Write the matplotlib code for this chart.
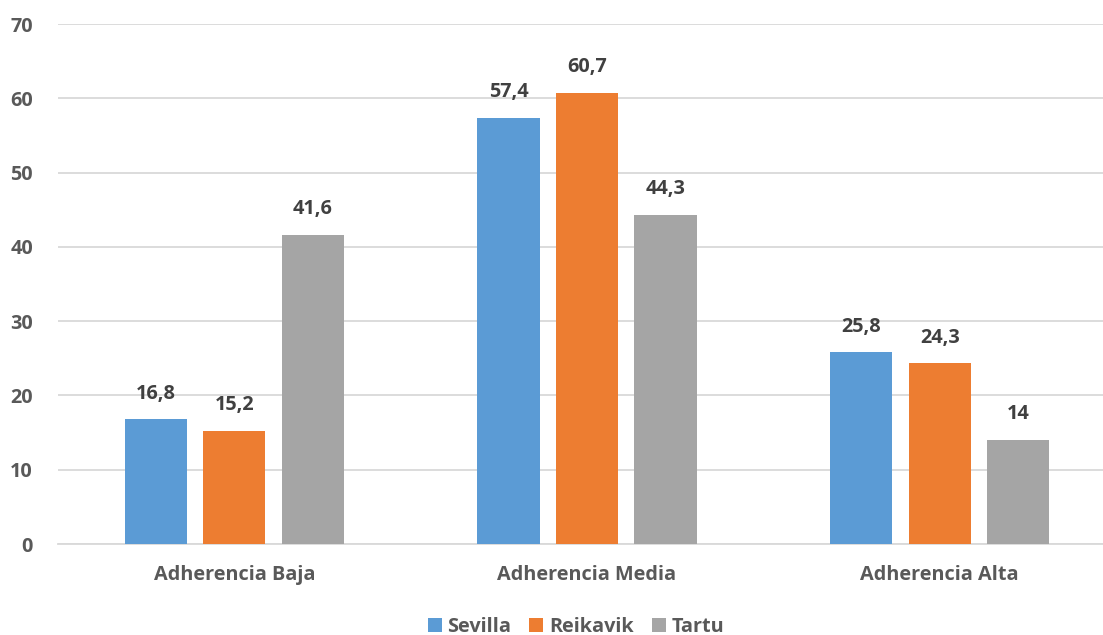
import numpy as np
import matplotlib
matplotlib.use('Agg')
from matplotlib import pyplot as plt

plt.rcParams['font.family'] = ['Open Sans', 'DejaVu Sans']
plt.rcParams['font.weight'] = 'bold'

categorias = ['Adherencia Baja', 'Adherencia Media', 'Adherencia Alta']
sevilla = [16.8, 57.4, 25.8]
reikavik = [15.2, 60.7, 24.3]
tartu = [41.6, 44.3, 14]
etiquetas_y = [0, 10, 20, 30, 40, 50, 60, 70]

series = [('Sevilla', sevilla, '#5B9BD5'),
          ('Reikavik', reikavik, '#ED7D31'),
          ('Tartu', tartu, '#A5A5A5')]

W, H = 1103, 635
fig = plt.figure(figsize=(W / 100, H / 100), dpi=100)
# el eje se extiende un poco más allá del borde derecho
ax = fig.add_axes([58 / W, 1 - 544 / H, (1116 - 58) / W, (544 - 24) / H])

x = np.arange(len(categorias))
ancho = 0.176
paso = 0.2225
fs = 14.3

def fmt(v):
    s = ('%.1f' % v).rstrip('0').rstrip('.')
    return s.replace('.', ',')

for i, (nombre, vals, color) in enumerate(series):
    pos = x + (i - 1) * paso
    barras = ax.bar(pos, vals, ancho, color=color, label=nombre, zorder=3)
    for b, v in zip(barras, vals):
        ax.text(b.get_x() + b.get_width() / 2, v + 2.1, fmt(v),
                ha='center', va='bottom', fontsize=fs, fontweight='bold',
                color='#404040')

ax.set_xlim(-0.5, 2.5)
ax.set_ylim(0, 70)
ax.set_yticks(etiquetas_y)
ax.set_yticklabels([str(v) for v in etiquetas_y])
ax.set_xticks(x)
ax.set_xticklabels(categorias, fontweight='bold')
ax.yaxis.grid(True, color='#D9D9D9', linewidth=1.3, zorder=0)
for s in ['top', 'right', 'left']:
    ax.spines[s].set_visible(False)
ax.spines['bottom'].set_color('#D9D9D9')
ax.spines['bottom'].set_linewidth(1.3)
ax.tick_params(axis='both', length=0, labelsize=fs, labelcolor='#595959')
ax.tick_params(axis='y', pad=18)
ax.tick_params(axis='x', pad=15)
for t in ax.get_yticklabels():
    t.set_fontweight('bold')

leg = fig.legend(loc='center', bbox_to_anchor=(576 / W, 1 - 627 / H), ncol=3,
                 frameon=False, handlelength=0.7, handleheight=0.7,
                 handletextpad=0.3, columnspacing=0.9, labelcolor='#595959',
                 prop={'size': fs, 'weight': 'bold'})

plt.savefig('out.png', dpi=100)
